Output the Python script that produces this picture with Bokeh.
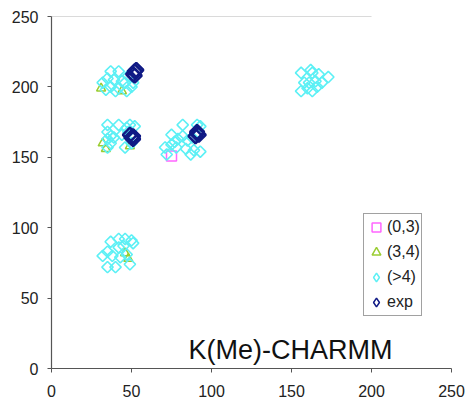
import math
from bokeh.plotting import figure
from bokeh.models import Range1d, FixedTicker, Label, Legend, LegendItem
from bokeh.embed import file_html
from bokeh.resources import INLINE

# ---- data ----
pink_x = [75]
pink_y = [151]

tri_x = [31, 44, 34, 49, 46, 48, 32]
tri_y = [199, 197, 156, 158, 82, 78, 160]

cyan_x = [32, 34, 37, 37, 39, 42, 42, 44, 46, 47, 48, 50, 51, 35, 40,
          35, 35, 35, 35, 37, 37, 39, 42, 46, 47, 49, 52, 50, 44, 48,
          72, 71, 75, 75, 78, 79, 82, 82, 85, 87, 89, 93, 91, 93, 88, 84, 77,
          156, 156, 158, 161, 163, 167, 163, 165, 169, 173, 160, 162, 166,
          32, 35, 40, 37, 42, 46, 50, 51, 42, 47, 49, 43, 38, 35, 45]
cyan_y = [203, 198, 211, 200, 205, 211, 199, 204, 203, 197, 208, 200, 203, 206, 197,
          173, 168, 163, 157, 160, 165, 164, 173, 157, 171, 173, 172, 160, 166, 168,
          152, 157, 166, 159, 157, 163, 173, 165, 162, 152, 155, 154, 173, 172, 164, 156, 161,
          210, 197, 203, 203, 210, 209, 197, 204, 203, 207, 199, 212, 200,
          80, 72, 72, 90, 92, 92, 91, 89, 86, 81, 74, 79, 80, 83, 87]

exp_x = [51, 52, 53, 52, 49, 50, 51, 51, 90, 91, 92, 91]
exp_y = [209, 211, 212, 208, 166, 164, 163, 165, 165, 167, 166, 168]

top_line_x = [0, 200]
top_line_y = [250, 250]

ticks = [0, 50, 100, 150, 200, 250]
series_names = ["(0,3)", "(3,4)", "(>4)", "exp"]
chart_label = "K(Me)-CHARMM"

FONT = "Liberation Sans"
C_PINK = "#FF66FF"
C_TRI = "#9ACD32"
C_CYAN = "#5CF0F5"
C_EXP = "#101A85"

p = figure(width=469, height=405, output_backend="svg", toolbar_location=None,
           x_range=Range1d(0, 250), y_range=Range1d(0, 250),
           frame_width=400, frame_height=352,
           min_border_left=51, min_border_right=18, min_border_top=16, min_border_bottom=37)
p.outline_line_color = None
p.grid.visible = False
p.background_fill_color = "white"

for ax in (p.xaxis[0], p.yaxis[0]):
    ax.ticker = FixedTicker(ticks=ticks)
    ax.axis_line_color = "#555555"
    ax.axis_line_width = 1.2
    ax.major_tick_line_color = "#555555"
    ax.major_tick_in = 0
    ax.major_tick_out = 4
    ax.minor_tick_line_color = None
    ax.major_label_text_font = FONT
    ax.major_label_text_font_size = "16px"
    ax.major_label_text_color = "#222222"
p.yaxis[0].major_label_standoff = 9
p.xaxis[0].major_label_standoff = 12

p.line(top_line_x, top_line_y, line_color="#b5b5b5", line_width=1.2)

ang = math.pi / 4
r_pink = p.scatter(pink_x, pink_y, marker="square", size=10, fill_color=None,
                   line_color=C_PINK, line_width=1.5)
r_tri = p.scatter(tri_x, tri_y, marker="triangle", size=9, fill_color=None,
                  line_color=C_TRI, line_width=1.5)
r_cyan = p.scatter(cyan_x, cyan_y, marker="square", size=8, angle=ang, fill_color=None,
                   line_color=C_CYAN, line_width=1.6)
r_exp = p.scatter(exp_x, exp_y, marker="square", size=10, angle=ang, fill_color=None,
                  line_color=C_EXP, line_width=2.5)

# legend-only glyphs (diamond shape for the legend swatches)
nan = [float("nan")]
lg_cyan = p.scatter(nan, nan, marker="diamond", size=10, fill_color=None,
                    line_color=C_CYAN, line_width=1.5)
lg_exp = p.scatter(nan, nan, marker="diamond", size=10, fill_color=None,
                   line_color=C_EXP, line_width=1.5)

legend = Legend(items=[LegendItem(label=series_names[0], renderers=[r_pink]),
                       LegendItem(label=series_names[1], renderers=[r_tri]),
                       LegendItem(label=series_names[2], renderers=[lg_cyan]),
                       LegendItem(label=series_names[3], renderers=[lg_exp])],
                location=(312, 52))
legend.label_text_font = FONT
legend.label_text_font_size = "16px"
legend.label_text_color = "#222222"
legend.glyph_width = 22
legend.glyph_height = 24
legend.label_standoff = 0
legend.spacing = 1
legend.padding = 1
legend.margin = 0
legend.border_line_color = "#444444"
legend.border_line_width = 1.5
legend.background_fill_alpha = 1.0
p.add_layout(legend, "center")

p.add_layout(Label(x=85.6, y=12.8, text=chart_label, text_font=FONT,
                   text_font_size="27px", text_color="#111111",
                   text_baseline="alphabetic"))

open("out.html", "w").write(file_html(p, INLINE))
